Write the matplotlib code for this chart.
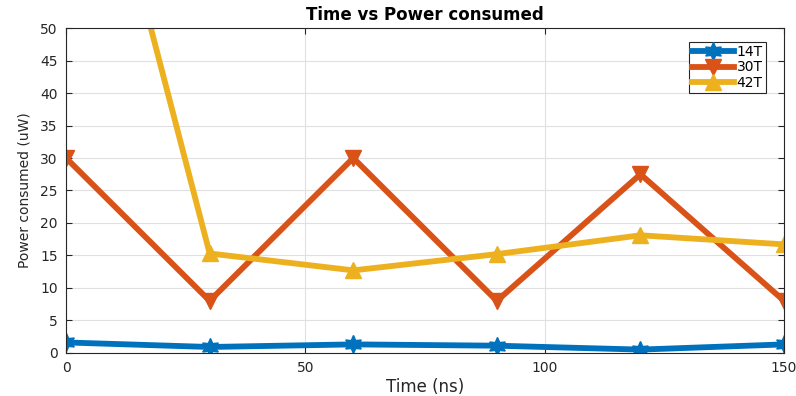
import matplotlib
matplotlib.use("Agg")
import matplotlib.pyplot as plt

time_ns = [0, 30, 60, 90, 120, 150]
power_14t = [1.6, 0.9, 1.3, 1.1, 0.5, 1.3]
power_30t = [30, 8, 30, 8, 27.5, 8]
power_42t = [100, 15.3, 12.7, 15.2, 18.1, 16.7]

plt.rcParams['font.family'] = ['DejaVu Sans']

fig = plt.figure(figsize=(7.96, 3.96), dpi=100)
ax = fig.add_axes([0.083, 0.109, 0.902, 0.82])

ax.plot(time_ns, power_14t, color='#0072BD', lw=4.2, marker=(6, 1, 0), ms=13, label='14T')
ax.plot(time_ns, power_30t, color='#D95319', lw=4.2, marker='v', ms=12, label='30T')
ax.plot(time_ns, power_42t, color='#EDB120', lw=4.2, marker='^', ms=12, label='42T')

ax.set_xlim(0, 150)
ax.set_ylim(0, 50)
ax.set_xticks([0, 50, 100, 150])
ax.set_yticks(range(0, 51, 5))
ax.grid(True, color='#e0e0e0', lw=0.8)
ax.set_axisbelow(True)
ax.tick_params(direction='in', top=True, right=True, labelsize=10, colors='#262626',
               length=4, pad=6)
for s in ax.spines.values():
    s.set_color('#262626')
    s.set_linewidth(0.8)

ax.set_title('Time vs Power consumed', fontsize=12, fontweight='bold', pad=6)
ax.set_xlabel('Time (ns)', fontsize=12, color='#262626', labelpad=2)
ax.set_ylabel('Power consumed (uW)', fontsize=10, color='#262626', labelpad=6)

leg = ax.legend(loc='upper right', fontsize=10, fancybox=False, borderpad=0.25,
                labelspacing=0.1, handlelength=3.0, handletextpad=0.2,
                bbox_to_anchor=(0.985, 0.98))
leg.get_frame().set_edgecolor('#262626')
leg.get_frame().set_linewidth(0.8)
leg.get_frame().set_alpha(1)

fig.savefig('out.png', dpi=100)
